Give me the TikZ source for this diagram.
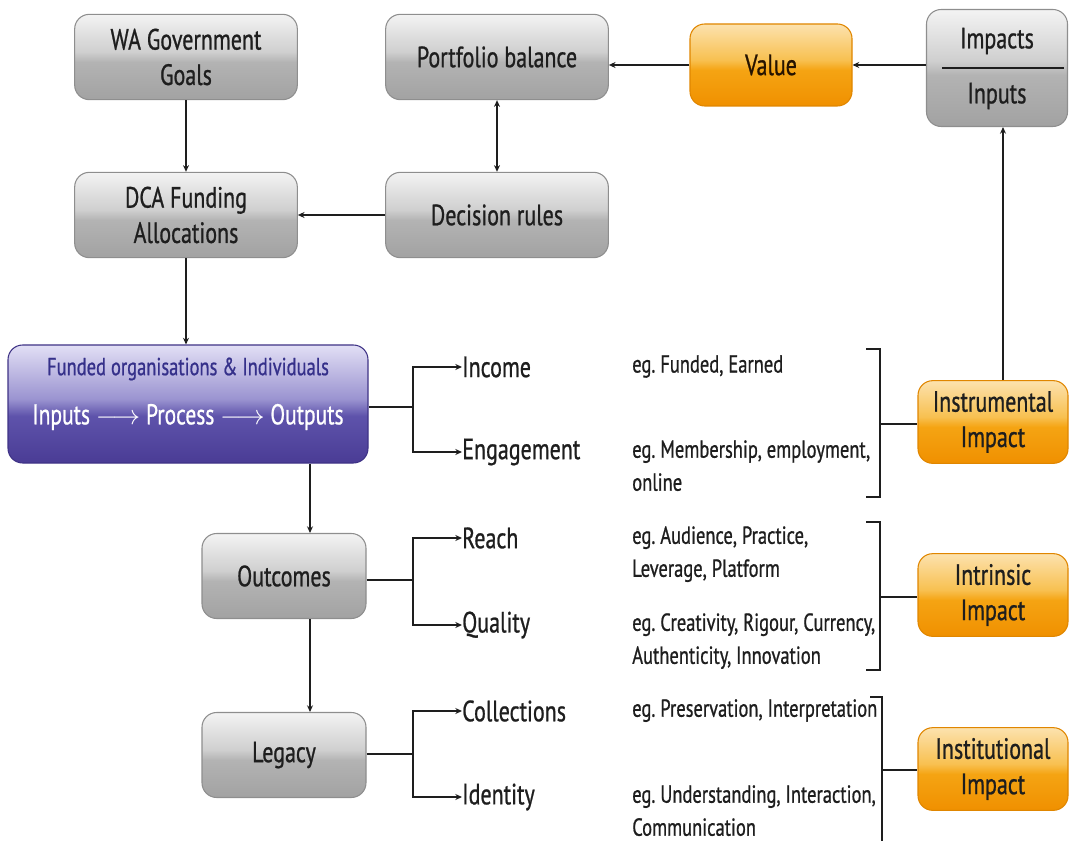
\documentclass[tikz,border=0pt]{standalone}
\usepackage{fontspec}
\setmainfont[FakeStretch=0.75,FakeBold=0.8]{PT Sans}
\usetikzlibrary{arrows.meta}
\definecolor{txt}{HTML}{1E1E1E}
\definecolor{gB}{HTML}{A2A2A2}
\definecolor{gM}{HTML}{B3B3B3}
\definecolor{gL}{HTML}{CFCFCF}
\definecolor{gT}{HTML}{F3F3F3}
\definecolor{gD}{HTML}{8E8E8E}
\definecolor{oB}{HTML}{F09000}
\definecolor{oM}{HTML}{F5A413}
\definecolor{oL}{HTML}{F8C050}
\definecolor{oT}{HTML}{FCE2AE}
\definecolor{oD}{HTML}{E08600}
\definecolor{bB}{HTML}{4A3C95}
\definecolor{bM}{HTML}{5E53AB}
\definecolor{bL}{HTML}{9A93D0}
\definecolor{bT}{HTML}{E2DFF5}
\definecolor{bD}{HTML}{3F3386}
\definecolor{bTxt}{HTML}{35308A}
\pgfdeclareverticalshading{ggray}{100bp}{color(0bp)=(gB);color(25bp)=(gB);color(47bp)=(gM);color(53bp)=(gL);color(75bp)=(gT);color(100bp)=(gT)}
\pgfdeclareverticalshading{gorange}{100bp}{color(0bp)=(oB);color(25bp)=(oB);color(47bp)=(oM);color(53bp)=(oL);color(75bp)=(oT);color(100bp)=(oT)}
\pgfdeclareverticalshading{gblue}{100bp}{color(0bp)=(bB);color(25bp)=(bB);color(45bp)=(bM);color(52bp)=(bL);color(75bp)=(bT);color(100bp)=(bT)}
\tikzset{
  box/.style={rounded corners=11pt, line width=0.8pt, inner sep=0pt, align=center, text=txt,
    font=\fontsize{22}{26.5}\selectfont},
  gbox/.style={box, draw=gD, shading=ggray},
  obox/.style={box, draw=oD, shading=gorange},
  bbox/.style={box, draw=bD, shading=gblue},
  arr/.style={line width=1.1pt, draw=txt, -{Stealth[length=5pt,width=4.5pt]}},
  darr/.style={line width=1.1pt, draw=txt, {Stealth[length=5pt,width=4.5pt]}-{Stealth[length=5pt,width=4.5pt]}},
  ln/.style={line width=1.1pt, draw=txt},
  brk/.style={line width=1.4pt, draw=txt},
  lab/.style={anchor=west, inner sep=0pt, text=txt, font=\fontsize{22}{26}\selectfont},
  desc/.style={anchor=north west, inner sep=0pt, align=left, text=txt, font=\fontsize{18.5}{24.75}\selectfont},
}
\frenchspacing
\begin{document}
\begin{tikzpicture}[x=0.75pt,y=-0.75pt]
\useasboundingbox (0,0) rectangle (1071,841);
% top boxes
\node[gbox, minimum width=167pt, minimum height=64pt] (wa) at (186,57) {WA Government\\Goals};
\node[gbox, minimum width=167pt, minimum height=64pt] (dca) at (186,215) {DCA Funding\\Allocations};
\node[gbox, minimum width=167pt, minimum height=64pt] (pb) at (497,57) {Portfolio balance};
\node[gbox, minimum width=167pt, minimum height=64pt] (dr) at (497,215) {Decision rules};
\node[obox, minimum width=121.5pt, minimum height=61.5pt, text=black!85!orange] (val) at (771,65) {Value};
\node[gbox, minimum width=105.75pt, minimum height=87.75pt] (ii) at (997,68) {};
\node[text=txt, font=\fontsize{22}{26}\selectfont, inner sep=0pt] (imp) at (997,41) {Impacts};
\node[text=txt, font=\fontsize{22}{26}\selectfont, inner sep=0pt] (inp) at (997,96) {Inputs};
\coordinate (fl1) at (942,68);
\coordinate (fl2) at (1064,68);
\draw[line width=1.3pt, draw=txt] (fl1) -- (fl2);
% funded
\node[bbox, minimum width=270pt, minimum height=88.5pt] (fund) at (188,404) {};
\node[text=bTxt, font=\fontsize{18.5}{20}\selectfont, inner sep=0pt] (fund1) at (188,369) {Funded organisations \& Individuals};
\node[text=white, font=\fontsize{21.5}{24}\selectfont, inner sep=0pt] (fund2) at (188,417) {Inputs $\longrightarrow$ Process $\longrightarrow$ Outputs};
\node[gbox, minimum width=123pt, minimum height=63.75pt] (out) at (284,576) {Outcomes};
\node[gbox, minimum width=123pt, minimum height=63.75pt] (leg) at (284,755) {Legacy};
% right orange boxes
\node[obox, minimum width=112.5pt, minimum height=62pt] (instr) at (993,422) {Instrumental\\Impact};
\node[obox, minimum width=112.5pt, minimum height=62pt] (intr) at (993,595) {Intrinsic\\Impact};
\node[obox, minimum width=112.5pt, minimum height=62pt] (inst) at (993,769) {Institutional\\Impact};
% top arrows
\draw[arr] (wa) -- (dca);
\draw[darr] (pb) -- (dr);
\draw[arr] (dr) -- (dca);
\draw[arr] (val) -- (pb.east |- val);
\draw[arr] (ii.west |- val) -- (val);
\draw[arr] (instr.north -| 1003,0) -- (ii.south -| 1003,0);
\draw[arr] (dca) -- (dca |- fund.north);
\draw[arr] (fund.south -| 310,0) -- (out.north -| 310,0);
\draw[arr] (out.south -| 310,0) -- (leg.north -| 310,0);
% labels
\node[lab] (income) at (462,367) {Income};
\node[lab] (engage) at (462,452) {Engagement};
\node[lab] (reach) at (462,538) {Reach};
\node[lab] (quality) at (462,625) {Quality};
\node[lab] (coll) at (462,711) {Collections};
\node[lab] (ident) at (462,797) {Identity};
% branches
\coordinate (fb) at (413,407);
\coordinate (ob) at (413,580);
\coordinate (lb) at (413,754);
\draw[ln] (fund.east |- fb) -- (fb);
\draw[arr] (fb) |- (income.west);
\draw[arr] (fb) |- (engage.west);
\draw[ln] (out.east |- ob) -- (ob);
\draw[arr] (ob) |- (reach.west);
\draw[arr] (ob) |- (quality.west);
\draw[ln] (leg.east |- lb) -- (lb);
\draw[arr] (lb) |- (coll.west);
\draw[arr] (lb) |- (ident.west);
% descriptions
\node[desc] (d1) at (632,355) {eg. Funded, Earned};
\node[desc] (d2) at (632,440) {eg. Membership, employment,\\online};
\node[desc] (d3) at (632,526) {eg. Audience, Practice,\\Leverage, Platform};
\node[desc] (d4) at (632,613) {eg. Creativity, Rigour, Currency,\\Authenticity, Innovation};
\node[desc] (d5) at (632,699) {eg. Preservation, Interpretation};
\node[desc] (d6) at (632,785) {eg. Understanding, Interaction,\\Communication};
% brackets
\coordinate (b1a) at (866,349); \coordinate (b1b) at (880,349);
\coordinate (b1c) at (880,497); \coordinate (b1d) at (866,497);
\coordinate (b1m) at (880,424);
\draw[brk] (b1a) -- (b1b) -- (b1c) -- (b1d);
\draw[brk] (b1m) -- (instr.west |- b1m);
\coordinate (b2a) at (866,522); \coordinate (b2b) at (880,522);
\coordinate (b2c) at (880,670); \coordinate (b2d) at (866,670);
\coordinate (b2m) at (880,597);
\draw[brk] (b2a) -- (b2b) -- (b2c) -- (b2d);
\draw[brk] (b2m) -- (intr.west |- b2m);
\coordinate (b3a) at (870,697); \coordinate (b3b) at (882,697);
\coordinate (b3c) at (882,841);
\coordinate (b3m) at (882,770);
\draw[brk] (b3a) -- (b3b) -- (b3c);
\draw[brk] (b3m) -- (inst.west |- b3m);
\end{tikzpicture}
\end{document}
